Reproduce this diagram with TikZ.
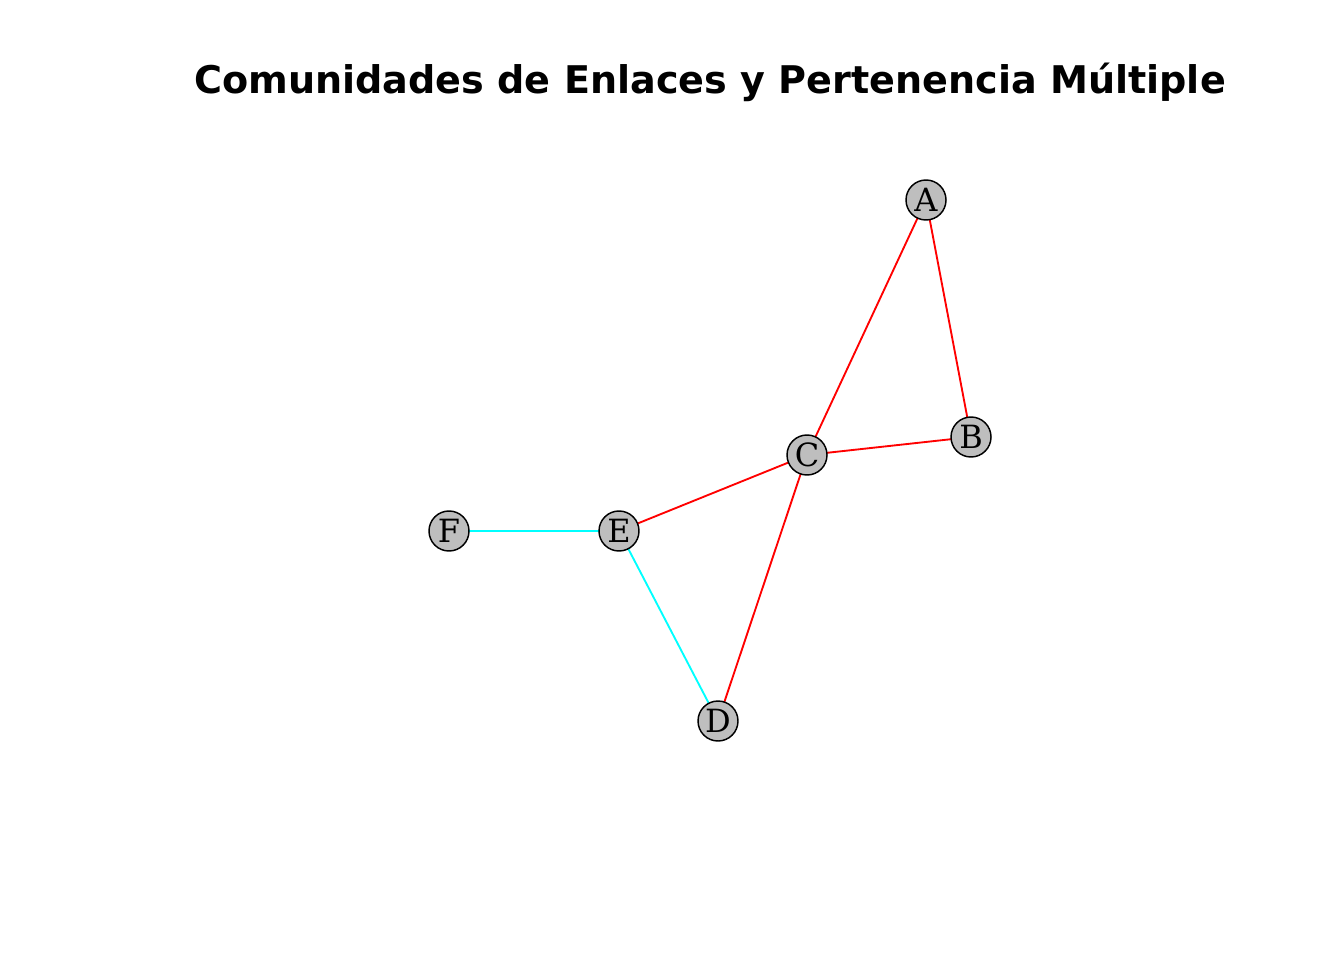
\documentclass[tikz,border=0pt]{standalone}
\usepackage{fontspec}
\newfontfamily\titlefont{DejaVu Sans}
\newfontfamily\nodefont{DejaVu Serif}
\definecolor{nodegray}{RGB}{190,190,190}
\definecolor{edgecyan}{RGB}{0,255,255}
\definecolor{edgered}{RGB}{255,0,0}
\begin{document}
\begin{tikzpicture}[x=0.75pt,y=-0.75pt,
  vert/.style={circle,draw=black,line width=1.1pt,fill=nodegray,minimum size=30pt,inner sep=0pt,font=\nodefont\fontsize{24}{24}\selectfont},
  redge/.style={draw=edgered,line width=1.4pt},
  cedge/.style={draw=edgecyan,line width=1.4pt}]
\useasboundingbox (0,0) rectangle (1344,960);
\node[font=\titlefont\bfseries\fontsize{28.6}{30}\selectfont] (title) at (710,82) {Comunidades de Enlaces y Pertenencia Múltiple};
\coordinate (pA) at (926,200);
\coordinate (pB) at (971,437);
\coordinate (pC) at (807,455);
\coordinate (pD) at (718,721);
\coordinate (pE) at (619,531);
\coordinate (pF) at (449,531);
\draw[redge] (pA) -- (pC);
\draw[redge] (pA) -- (pB);
\draw[redge] (pB) -- (pC);
\draw[redge] (pC) -- (pE);
\draw[redge] (pC) -- (pD);
\draw[cedge] (pE) -- (pF);
\draw[cedge] (pE) -- (pD);
\node[vert] (A) at (pA) {A};
\node[vert] (B) at (pB) {B};
\node[vert] (C) at (pC) {C};
\node[vert] (D) at (pD) {D};
\node[vert] (E) at (pE) {E};
\node[vert] (F) at (pF) {F};
\end{tikzpicture}
\end{document}
